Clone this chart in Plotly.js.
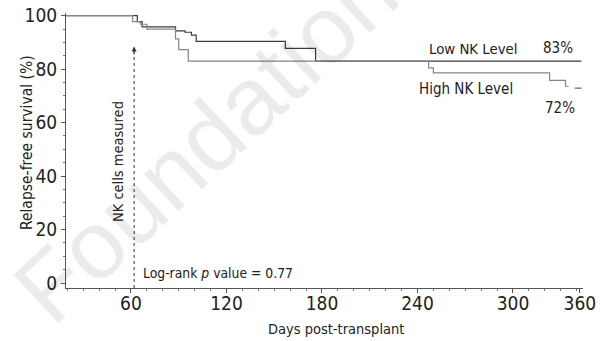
<!DOCTYPE html>
<html>
<head>
<meta charset="utf-8">
<script src="https://cdn.plot.ly/plotly-3.0.1.min.js"></script>
<style>html,body{margin:0;padding:0;background:#fff}#chart{width:600px;height:341px}</style>
</head>
<body>
<div id="chart"></div>
<script>
// Kaplan-Meier step data (days post-transplant, % relapse-free)
const lowDays  = [19, 64, 67, 88, 94, 98, 101, 157, 176, 343];
const lowSurv  = [100, 97.8, 95.8, 94.3, 93.8, 92.7, 90.4, 87.8, 83.0, 83.0];
const highDays = [19, 61, 66, 70, 88, 90, 96, 247, 250, 323, 333, 335];
const highSurv = [100, 97.8, 96.8, 95.0, 91.3, 87.3, 83.0, 80.5, 78.6, 75.8, 73.6, 73.6];
const highCensorDays = [341];
const highCensorSurv = [72.9];

const xTickVals = [60, 120, 180, 240, 300, 342];
const xTickText = ['60', '120', '180', '240', '300', '360'];
const yTickVals = [0, 20, 40, 60, 80, 100];

const measuredDay = 62;

const FONT = '"Liberation Sans Narrow", "DejaVu Sans Condensed", "Arial Narrow", sans-serif';
const TXT = '#222';

const traces = [
  {x: lowDays, y: lowSurv, type: 'scatter', mode: 'lines', line: {shape: 'hv', color: '#3d3d3d', width: 1.2}, name: 'Low NK Level', hoverinfo: 'skip'},
  {x: highDays, y: highSurv, type: 'scatter', mode: 'lines', line: {shape: 'hv', color: '#858585', width: 1.2}, name: 'High NK Level', hoverinfo: 'skip'},
  {x: highCensorDays, y: highCensorSurv, type: 'scatter', mode: 'markers', marker: {symbol: 'line-ew', size: 5, line: {color: '#444', width: 1}}, hoverinfo: 'skip'}
];

const layout = {
  width: 600, height: 341,
  margin: {l: 66, r: 17, t: 13, b: 53},
  paper_bgcolor: '#fff', plot_bgcolor: '#fff',
  showlegend: false,
  font: {family: FONT, color: TXT, size: 15},
  xaxis: {
    range: [19.2, 344], showgrid: false, zeroline: false,
    showline: true, linecolor: '#555', linewidth: 1,
    tickmode: 'array', tickvals: xTickVals, ticktext: xTickText,
    ticks: 'outside', ticklen: 4, tickcolor: '#555', ticklabelstandoff: -6,
    tickfont: {family: FONT, size: 19, color: TXT},
    minor: {dtick: 10, tick0: 0, ticks: 'outside', ticklen: 2, tickcolor: '#777'}
  },
  yaxis: {
    range: [-1.87, 101], showgrid: false, zeroline: false,
    showline: true, linecolor: '#555', linewidth: 1,
    tickmode: 'array', tickvals: yTickVals,
    ticks: 'outside', ticklen: 4, tickcolor: '#555',
    tickfont: {family: FONT, size: 19, color: TXT},
    minor: {dtick: 5, tick0: 0, ticks: 'outside', ticklen: 2, tickcolor: '#777'}
  },
  shapes: [
    {type: 'line', xref: 'x', yref: 'y', x0: measuredDay, x1: measuredDay, y0: -1.87, y1: 86.5,
     line: {color: '#333', width: 1, dash: 'dot'}}
  ],
  annotations: [
    {text: 'Foundation', xref: 'paper', yref: 'paper', x: 0.269, y: 0.538, xanchor: 'center', yanchor: 'middle',
     showarrow: false, textangle: -43,
     font: {family: '"Liberation Sans", Arial, sans-serif', size: 96, color: 'rgba(0,0,0,0.08)'}},
    {x: measuredDay, y: 88.5, ax: measuredDay, ay: 85, xref: 'x', yref: 'y', axref: 'x', ayref: 'y',
     text: '', showarrow: true, arrowhead: 2, arrowsize: 1, arrowwidth: 1, arrowcolor: '#333'},
    {text: 'NK cells measured', xref: 'paper', yref: 'paper', x: 0.1006, y: 0.458, xanchor: 'center', yanchor: 'middle',
     showarrow: false, textangle: -90, font: {size: 14.5, color: TXT}},
    {text: 'Log-rank <i>p</i> value = 0.77', xref: 'paper', yref: 'paper', x: 0.145, y: 0.0545, xanchor: 'left', yanchor: 'middle',
     showarrow: false, font: {size: 13.8, color: TXT}},
    {text: 'Low NK Level', xref: 'paper', yref: 'paper', x: 0.787, y: 0.871, xanchor: 'center', yanchor: 'middle',
     showarrow: false, font: {size: 14.8, color: TXT}},
    {text: '83%', xref: 'paper', yref: 'paper', x: 0.952, y: 0.871, xanchor: 'center', yanchor: 'middle',
     showarrow: false, font: {size: 15, color: TXT}},
    {text: 'High NK Level', xref: 'paper', yref: 'paper', x: 0.774, y: 0.724, xanchor: 'center', yanchor: 'middle',
     showarrow: false, font: {size: 15, color: TXT}},
    {text: '72%', xref: 'paper', yref: 'paper', x: 0.9555, y: 0.653, xanchor: 'center', yanchor: 'middle',
     showarrow: false, font: {size: 15, color: TXT}},
    {text: 'Days post-transplant', xref: 'paper', yref: 'paper', x: 0.522, y: -0.149, xanchor: 'center', yanchor: 'middle',
     showarrow: false, font: {size: 14.5, color: TXT}},
    {text: 'Relapse-free survival (%)', xref: 'paper', yref: 'paper', x: -0.0754, y: 0.527, xanchor: 'center', yanchor: 'middle',
     showarrow: false, textangle: -90, font: {size: 15.5, color: TXT}}
  ]
};

Plotly.newPlot('chart', traces, layout, {displayModeBar: false, staticPlot: true});
</script>
</body>
</html>
